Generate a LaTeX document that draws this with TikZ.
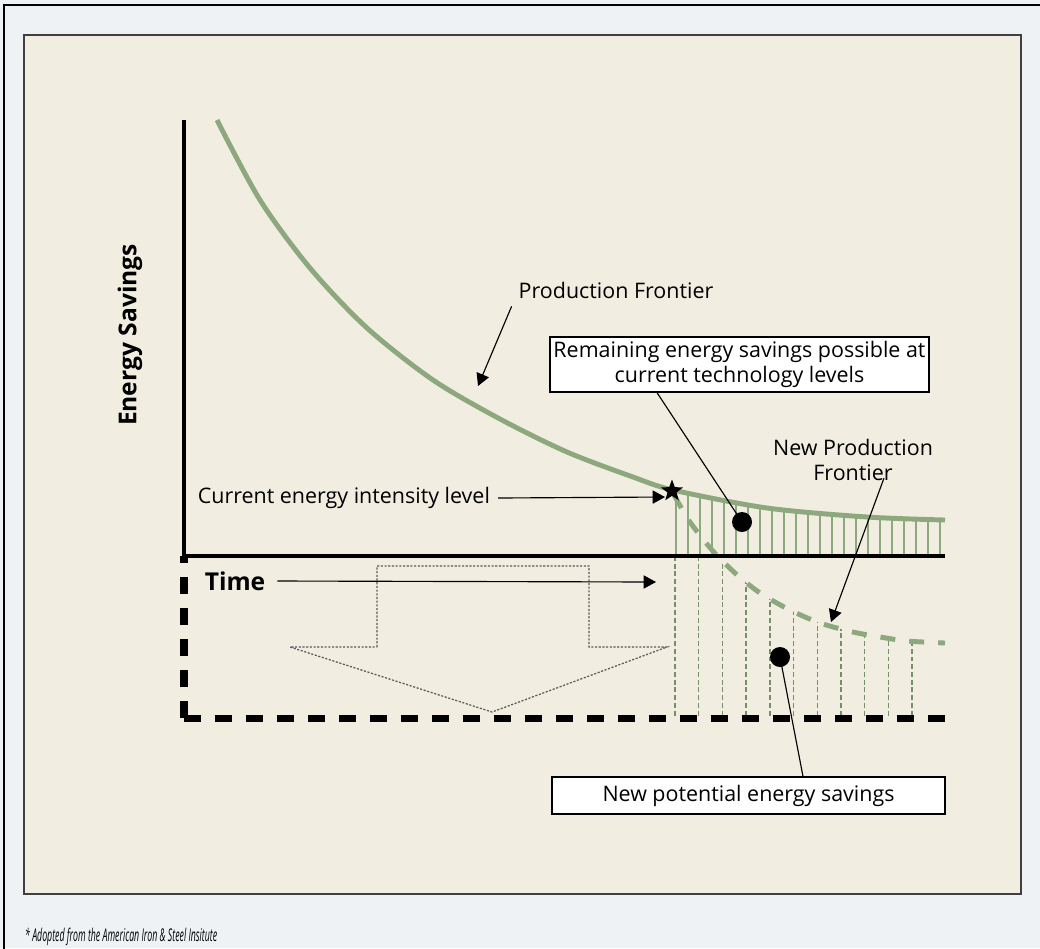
\documentclass[tikz,border=0pt]{standalone}
\usepackage{fontspec}
\setmainfont{Open Sans}
\usetikzlibrary{arrows.meta, shapes.geometric, positioning}
\definecolor{outerbg}{RGB}{238,242,245}
\definecolor{panelbg}{RGB}{241,237,225}
\definecolor{frontier}{RGB}{140,168,124}
\definecolor{shiftgray}{RGB}{90,90,90}

\begin{document}
\begin{tikzpicture}[x=0.02cm, y=-0.02cm,
  axis/.style={line width=2.8pt},
  dashaxis/.style={line width=4pt, dash pattern=on 0.34cm off 0.28cm},
  curve/.style={frontier, line width=2.8pt},
  hatch/.style={frontier, line width=1pt},
  dhatch/.style={frontier!85!black, line width=0.8pt, dash pattern=on 2.8pt off 1.6pt},
  pointer/.style={-{Triangle[length=7pt,width=7.5pt]}, line width=0.65pt},
  leader/.style={line width=0.65pt},
  shiftarrow/.style={shiftgray, line width=0.7pt, dash pattern=on 1.2pt off 0.9pt},
  label/.style={font=\fontsize{12.2}{14.5}\selectfont, inner sep=1pt},
  callout/.style={draw, fill=white, line width=0.7pt, font=\fontsize{12.2}{14}\selectfont, align=center, inner sep=0pt},
  dot/.style={circle, fill=black, minimum size=0.4cm, inner sep=0pt},
]
\useasboundingbox (0,0) rectangle (1040,948);
\clip (0,0) rectangle (1040,948);
\fill[outerbg] (0,0) rectangle (1040,948);
\draw[line width=1.2pt] (4,960) -- (4,5) -- (1050,5);
\draw[fill=panelbg, draw=black!75, line width=1pt] (24,35) rectangle (1021,894);

% hatching under the current frontier
\begin{scope}
\clip plot[smooth, tension=0.5] coordinates {(217,120) (260,200) (310,268) (367,328) (433,380) (500,419) (567,452) (633,477) (673,490) (767,508) (867,517) (945,520)} -- (945,556) -- (217,556) -- cycle;
\foreach \x in {676,688,...,940}
  \draw[hatch] (\x,556) -- (\x,470);
\end{scope}

% hatching under the new frontier
\begin{scope}
\clip plot[smooth, tension=0.5] coordinates {(674,495) (690,522) (712,550) (735,573) (760,593) (790,610) (820,623) (853,632) (880,637) (907,641) (945,643)} -- (945,718) -- (674,718) -- cycle;
\foreach \i in {0,...,10}
  \draw[dhatch] ({675+23.7*\i},556) -- ({675+23.7*\i},718);
\end{scope}

\draw[curve] plot[smooth, tension=0.5] coordinates {(217,120) (260,200) (310,268) (367,328) (433,380) (500,419) (567,452) (633,477) (673,490) (767,508) (867,517) (945,520)};
\draw[curve, dash pattern=on 0.3cm off 0.28cm] plot[smooth, tension=0.5] coordinates {(674,495) (690,522) (712,550) (735,573) (760,593) (790,610) (820,623) (853,632) (880,637) (907,641) (945,643)};

\draw[axis] (184,120) -- (184,556) -- (945,556);
\draw[dashaxis] (184,718) -- (184,556);
\draw[dashaxis] (184,718) -- (945,718);

\draw[shiftarrow] (377,647) -- (377,566) -- (589,566) -- (589,647) -- (667,647) -- (492,712) -- (290,647) -- cycle;

\node[rotate=90, font=\fontsize{14}{16}\selectfont\bfseries] (ylabel) at (130,335) {Energy Savings};

\node[star, star points=5, star point ratio=2.4, fill=black, minimum size=0.46cm, inner sep=0pt] (now) at (672,491) {};
\node[label, anchor=east] (current) at (492,498) {Current energy intensity level};
\draw[pointer] (current.east) ++(0.12cm,0) -- ([yshift=-0.12cm]now.west);

\node[label, font=\fontsize{14}{16}\selectfont\bfseries] (time) at (235,581) {Time};
\coordinate (timeend) at (656,582);
\draw[pointer] ([xshift=0.2cm]time.east) -- (timeend);

\node[label] (pf) at (616,290) {Production Frontier};
\coordinate (pftip) at (478,386);
\draw[pointer] ([xshift=-0.1cm,yshift=-0.12cm]pf.south west) -- (pftip);

\node[callout, minimum width=7.58cm, minimum height=1.1cm] (remain) at (739.5,364.5) {Remaining energy savings possible at\\current technology levels};
\node[dot] (dot1) at (742,522) {};
\draw[leader] ([xshift=-1.65cm]remain.south) -- (dot1.center);

\node[label, align=center] (npf) at (853,460) {New Production\\Frontier};
\coordinate (npftip) at (831,622);
\draw[pointer] ([xshift=0.62cm,yshift=0.1cm]npf.south) -- (npftip);

\node[dot] (dot2) at (780,657) {};
\node[callout, minimum width=7.86cm, minimum height=0.74cm] (newsave) at (748.5,795.5) {New potential energy savings};
\draw[leader] (dot2.center) -- ([xshift=1.09cm]newsave.north);

\node[anchor=west, inner sep=0pt, xscale=0.5, font=\fontsize{10}{12}\selectfont\itshape] (source) at (25,937) {* Adopted from the American Iron \& Steel Insitute};
\end{tikzpicture}
\end{document}
